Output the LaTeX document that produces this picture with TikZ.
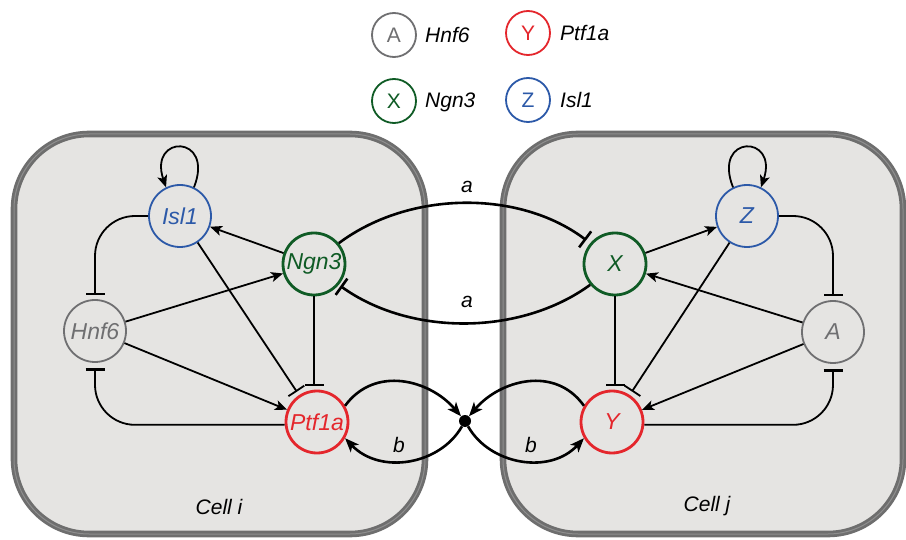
\documentclass[tikz,border=0pt]{standalone}
\usepackage{fontspec}
\setmainfont{Liberation Sans}
\usetikzlibrary{arrows.meta}
\definecolor{cblue}{HTML}{2C59A8}
\definecolor{cgreen}{HTML}{0F5B25}
\definecolor{cgray}{HTML}{6F6F71}
\definecolor{cred}{HTML}{E4262C}
\definecolor{cellborder}{HTML}{6E6E6E}
\definecolor{cellinner}{HTML}{8E8E8E}
\definecolor{cellfill}{HTML}{E5E4E2}
\begin{document}
\begin{tikzpicture}[x=1pt,y=-1pt,
  cell/.style={draw=cellborder, double=cellinner, double distance=1pt, line width=2.8pt, fill=cellfill, rounded corners=75pt},
  gene/.style={circle, minimum size=62pt, inner sep=0pt, fill=cellfill, font=\fontsize{23}{25}\selectfont\itshape},
  leg/.style={circle, minimum size=44pt, inner sep=0pt, fill=white, line width=1.8pt, font=\fontsize{21}{24}\selectfont},
  legtxt/.style={anchor=west, inner sep=0pt, font=\fontsize{21}{24}\selectfont\itshape},
  lbl/.style={inner sep=0pt, font=\fontsize{21}{24}\selectfont\itshape},
  act/.style={line width=1.8pt, -{Stealth[length=12pt,width=10pt,inset=3pt]}},
  inh/.style={line width=1.8pt, -{Bar[width=19pt]}, shorten >=4pt},
  inhb/.style={line width=1.8pt, -{Bar[width=19pt,line width=3.5pt]}, shorten >=5pt},
  bact/.style={line width=2.6pt, -{Stealth[length=14pt,width=11pt,inset=3.5pt]}},
  binh/.style={line width=2.6pt, -{Bar[width=20pt]}},
]
\useasboundingbox (0,0) rectangle (906,540);

% cells
\path[cell] (14,134) rectangle (425,534);
\path[cell] (503,134) rectangle (903,534);

% legend
\node[leg, draw=cgray, text=cgray] (lA) at (394,35) {A};
\node[legtxt] (tA) at (425,35) {Hnf6};
\node[leg, draw=cred, text=cred] (lY) at (528,33) {Y};
\node[legtxt] (tY) at (560,33) {Ptf1a};
\node[leg, draw=cgreen, text=cgreen] (lX) at (394,101) {X};
\node[legtxt] (tX) at (425,102) {Ngn3};
\node[leg, draw=cblue, text=cblue] (lZ) at (528,100) {Z};
\node[legtxt] (tZ) at (560,100) {Isl1};

% left cell genes
\node[gene, draw=cblue, text=cblue, line width=1.8pt] (isl) at (180,216) {Isl1};
\node[gene, draw=cgreen, text=cgreen, line width=2.8pt] (ngn) at (314,264) {Ngn3};
\node[gene, draw=cgray, text=cgray, line width=1.8pt] (hnf) at (95,331) {Hnf6};
\node[gene, draw=cred, text=cred, line width=2.8pt] (ptf) at (317,422) {Ptf1a};

% right cell genes
\node[gene, draw=cblue, text=cblue, line width=1.8pt] (z) at (747,216) {Z};
\node[gene, draw=cgreen, text=cgreen, line width=2.8pt] (x) at (615,264) {X};
\node[gene, draw=cgray, text=cgray, line width=1.8pt] (a) at (833,332) {A};
\node[gene, draw=cred, text=cred, line width=2.8pt] (y) at (612,422) {Y};

% junction
\node[circle, fill=black, minimum size=12pt, inner sep=0pt] (dot) at (465,421) {};

% left cell edges
\draw[act] (isl.64) .. controls (215,134) and (148,134) .. (isl.116);
\draw[act] (ngn) -- (isl);
\draw[act] (hnf) -- (ngn);
\draw[act] (hnf) -- (ptf);
\draw[inh] (isl) -- (ptf);
\draw[inh] (ngn.south) -- (ngn.south |- ptf.north);
\draw[inh, rounded corners=40pt] (isl.west) -| (hnf.north);
\draw[inhb, rounded corners=40pt] (ptf.185) -| (hnf.south);

% right cell edges
\draw[act] (z.116) .. controls (712,134) and (779,134) .. (z.64);
\draw[act] (x) -- (z);
\draw[act] (a) -- (x);
\draw[act] (a) -- (y);
\draw[inh] (z) -- (y);
\draw[inh] (x.south) -- (x.south |- y.north);
\draw[inh, rounded corners=40pt] (z.east) -| (a.north);
\draw[inhb, rounded corners=40pt] (y.355) -| (a.south);

% inter-cell coupling a
\draw[binh, shorten >=5pt] (ngn.40) .. controls (410,190) and (520,190) .. (x.140);
\draw[binh, shorten >=2pt] (x.220) .. controls (520,336) and (410,336) .. (ngn.-40);
\node[lbl] (la1) at (467,187) {a};
\node[lbl] (la2) at (467,302) {a};

% coupling b
\draw[bact] (ptf.30) .. controls (375,365) and (430,380) .. (dot);
\draw[bact] (dot) .. controls (440,465) and (380,475) .. (ptf.-30);
\draw[bact] (y.150) .. controls (555,365) and (500,380) .. (dot);
\draw[bact] (dot) .. controls (490,465) and (550,475) .. (y.210);
\node[lbl] (lb1) at (399,445) {b};
\node[lbl] (lb2) at (531,445) {b};

% cell labels
\node[lbl] (ci) at (219,507) {Cell i};
\node[lbl] (cj) at (707,506) {Cell j};
\end{tikzpicture}
\end{document}
